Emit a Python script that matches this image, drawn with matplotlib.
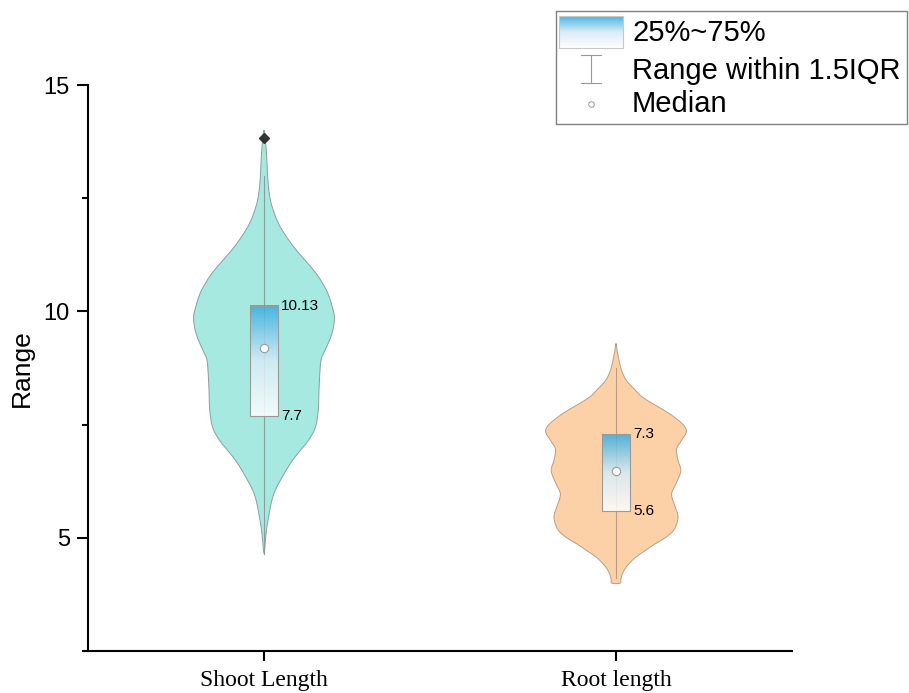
import matplotlib
matplotlib.use('Agg')
import matplotlib.pyplot as plt
import numpy as np
from matplotlib.colors import LinearSegmentedColormap
from matplotlib.patches import Rectangle, PathPatch
from matplotlib.path import Path
from matplotlib.ticker import MultipleLocator

plt.rcParams['font.family'] = ['Liberation Sans', 'DejaVu Sans']

categories = ['Shoot Length', 'Root length']
q1 = [7.7, 5.6]
q3 = [10.13, 7.3]
medians = [9.2, 6.47]
whisker_lo = [4.65, 4.12]
whisker_hi = [13.0, 8.74]
outliers = [[13.83], []]

# violin outlines: value level and relative density (1 = widest point)
shoot_y = [14.0, 13.6, 13.19, 12.8, 12.46, 12.15, 11.87, 11.6, 11.35, 11.1, 10.84,
           10.6, 10.39, 10.1, 9.87, 9.6, 9.36, 9.15, 8.92, 8.55, 8.2, 7.81,
           7.44, 7.15, 6.9, 6.70, 6.48, 6.26, 6.05, 5.82, 5.5, 5.23, 4.95, 4.65]
shoot_d = [0.0, 0.03, 0.045, 0.06, 0.09, 0.15, 0.23, 0.34, 0.46, 0.6, 0.74,
           0.84, 0.91, 0.97, 1.0, 0.98, 0.93, 0.87, 0.81, 0.79, 0.78, 0.77,
           0.73, 0.63, 0.5, 0.40, 0.31, 0.23, 0.16, 0.11, 0.07, 0.04, 0.02, 0.0]
root_y = [9.29, 9.1, 8.84, 8.65, 8.47, 8.3, 8.10, 7.92, 7.74, 7.52, 7.35, 7.15,
          6.96, 6.72, 6.48, 6.22, 5.97, 5.73, 5.49, 5.30, 5.15, 5.0, 4.86,
          4.7, 4.56, 4.4, 4.27, 4.1, 4.0]
root_d = [0.0, 0.02, 0.055, 0.09, 0.15, 0.25, 0.38, 0.57, 0.76, 0.94, 1.0, 0.93,
          0.86, 0.88, 0.92, 0.86, 0.79, 0.83, 0.88, 0.86, 0.81, 0.7, 0.55,
          0.4, 0.27, 0.17, 0.11, 0.07, 0.06]

violin_y = [shoot_y, root_y]
violin_d = [shoot_d, root_d]
fills = ['#a6e9e1', '#fdd1a8']
edges = ['#8a9f9c', '#b89d86']

half_w = 0.2
box_w = 0.08
box_cmap = LinearSegmentedColormap.from_list('box', ['#ffffff', '#d6ebf6', '#33ace0'])
grad = np.linspace(0, 1, 256).reshape(-1, 1)


def violin_path(pos, y, d, ax):
    """Closed smooth outline (Catmull-Rom as cubic Bezier) in display-independent data units."""
    y = np.asarray(y, float)
    d = np.asarray(d, float) * half_w
    pts = [(pos + w, v) for w, v in zip(d, y)]
    pts += [(pos - w, v) for w, v in zip(d[::-1], y[::-1])]
    clean = [pts[0]]
    for p in pts[1:]:
        if not np.allclose(p, clean[-1]):
            clean.append(p)
    if np.allclose(clean[0], clean[-1]):
        clean.pop()
    # smooth in pixel-like space so x and y scale evenly
    sx = 351.0
    sy = 45.2
    P = np.array([(px * sx, py * sy) for px, py in clean])
    n = len(P)
    verts = [P[0]]
    codes = [Path.MOVETO]
    for k in range(n):
        p0, p1, p2, p3 = P[k - 1], P[k], P[(k + 1) % n], P[(k + 2) % n]
        c1 = p1 + (p2 - p0) / 6.0
        c2 = p2 - (p3 - p1) / 6.0
        verts += [c1, c2, p2]
        codes += [Path.CURVE4] * 3
    verts = np.array(verts) / np.array([sx, sy])
    return Path(verts, codes)


fig = plt.figure(figsize=(9.09, 6.93), dpi=100)
ax = fig.add_axes([88 / 909, 1 - 651 / 693, 704 / 909, 566 / 693])

for i, cat in enumerate(categories):
    pos = i + 1
    ax.add_patch(PathPatch(violin_path(pos, violin_y[i], violin_d[i], ax),
                           facecolor=fills[i], edgecolor=edges[i], lw=0.7, zorder=1))
    ax.plot([pos, pos], [whisker_lo[i], whisker_hi[i]], color=edges[i], lw=0.8, zorder=2)
    ax.imshow(grad, cmap=box_cmap, origin='lower', aspect='auto', alpha=0.85,
              extent=(pos - box_w / 2, pos + box_w / 2, q1[i], q3[i]), zorder=3)
    ax.add_patch(Rectangle((pos - box_w / 2, q1[i]), box_w, q3[i] - q1[i], fill=False,
                           edgecolor='#9a9a9a', lw=0.8, zorder=4))
    ax.plot(pos, medians[i], 'o', ms=6, mfc='white', mec='#9a9a9a', mew=0.8, zorder=5)
    for v in outliers[i]:
        ax.plot(pos, v, 'D', ms=5.5, color='#333333', zorder=5)
    ax.text(pos + box_w / 2 + 0.008, q3[i], f'{q3[i]:g}', fontsize=11, va='center', ha='left', zorder=6)
    ax.text(pos + box_w / 2 + 0.008, q1[i], f'{q1[i]:g}', fontsize=11, va='center', ha='left', zorder=6)

ax.set_xlim(0.5, 2.5)
ax.set_ylim(2.5, 15)
ax.set_xticks([1, 2])
ax.set_xticklabels(categories, family=['Liberation Serif'], fontsize=17)
ax.set_yticks([5, 10, 15])
ax.yaxis.set_minor_locator(MultipleLocator(2.5))
ax.tick_params(axis='y', which='major', labelsize=17, length=8, width=1.5, pad=5)
ax.tick_params(axis='y', which='minor', length=4, width=1.5)
ax.tick_params(axis='x', length=7.5, width=1.5, pad=6)
ax.set_ylabel('Range', fontsize=19, labelpad=7)
for s in ['top', 'right']:
    ax.spines[s].set_visible(False)
for s in ['left', 'bottom']:
    ax.spines[s].set_linewidth(1.5)

# legend panel drawn in its own pixel-unit axes
leg = fig.add_axes([555 / 909, 1 - 125 / 693, 353 / 909, 115 / 693])
leg.axis('off')
leg.add_patch(Rectangle((0.5, 0.5), 351.5, 113.5, fill=False, edgecolor='#808080',
                        lw=1, clip_on=False))
leg.imshow(grad, cmap=box_cmap, origin='lower', aspect='auto', alpha=0.9,
           extent=(4, 68, 38, 6))
leg.add_patch(Rectangle((4, 6), 64, 32, fill=False, edgecolor='#c8c8c8', lw=0.8))
leg.plot([36, 36], [45, 73], color='#999999', lw=0.8)
leg.plot([26, 46], [45, 45], color='#999999', lw=0.8)
leg.plot([26, 46], [73, 73], color='#999999', lw=0.8)
leg.plot(36, 94, 'o', ms=4, mfc='white', mec='#999999', mew=0.7)
for ty, label in zip([23, 61, 94], ['25%~75%', 'Range within 1.5IQR', 'Median']):
    leg.text(77, ty, label, fontsize=21, va='center', ha='left')
leg.set_xlim(0, 353)
leg.set_ylim(115, 0)

fig.savefig('out.png', dpi=100)
